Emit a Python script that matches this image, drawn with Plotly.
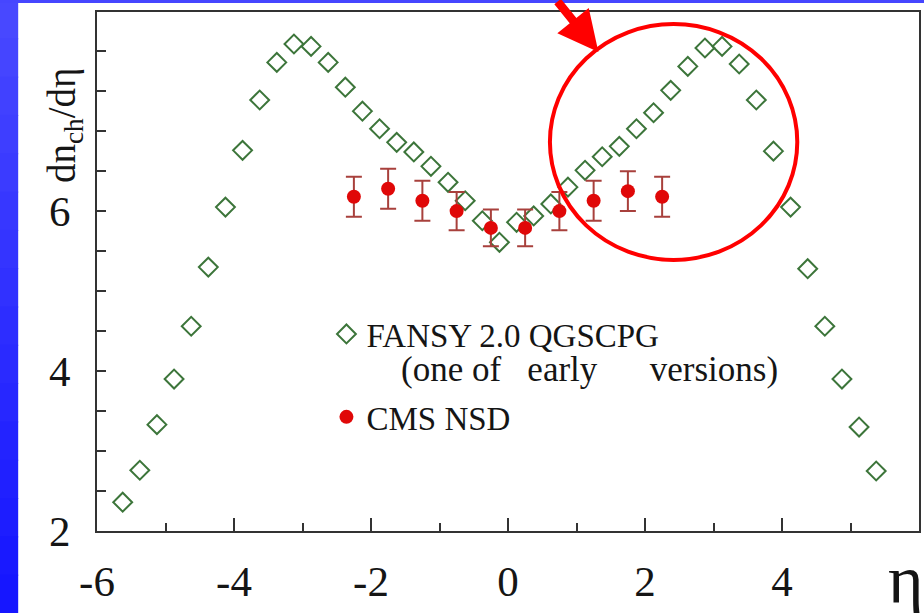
import plotly.graph_objects as go

# FANSY 2.0 QGSCPG pseudorapidity distribution (open diamonds)
eta_fansy = [-5.625, -5.375, -5.125, -4.875, -4.625, -4.375, -4.125, -3.875, -3.625,
             -3.375, -3.125, -2.875, -2.625, -2.375, -2.125, -1.875, -1.625, -1.375,
             -1.125, -0.875, -0.625, -0.375, -0.125,
             0.125, 0.375, 0.625, 0.875, 1.125, 1.375, 1.625, 1.875, 2.125, 2.375,
             2.625, 2.875, 3.125, 3.375, 3.625, 3.875, 4.125, 4.375, 4.625, 4.875,
             5.125, 5.375]
dn_fansy = [2.36, 2.76, 3.33, 3.90, 4.56, 5.30, 6.05, 6.76, 7.39,
            7.86, 8.09, 8.06, 7.86, 7.55, 7.25, 7.03, 6.86, 6.74,
            6.56, 6.36, 6.13, 5.88, 5.61,
            5.86, 5.94, 6.09, 6.30, 6.51, 6.68, 6.81, 7.03, 7.23, 7.51,
            7.81, 8.04, 8.06, 7.84, 7.39, 6.75, 6.05, 5.28, 4.56, 3.90,
            3.30, 2.75]

# CMS NSD measurement (filled circles with errors)
eta_cms = [-2.25, -1.75, -1.25, -0.75, -0.25, 0.25, 0.75, 1.25, 1.75, 2.25]
dn_cms = [6.18, 6.28, 6.13, 6.00, 5.79, 5.79, 6.00, 6.13, 6.25, 6.18]
err_cms = [0.25, 0.25, 0.25, 0.24, 0.23, 0.23, 0.24, 0.25, 0.25, 0.25]

x_tick_vals = [-6, -4, -2, 0, 2, 4]
x_tick_text = ["-6", "-4", "-2", "0", "2", "4"]
x_minor_vals = [-5, -3, -1, 1, 3, 5]
y_tick_vals = [2, 4, 6]
y_tick_text = ["2", "4", "6"]
y_minor_vals = [2.5, 3, 3.5, 4.5, 5, 5.5, 6.5, 7, 7.5, 8]

SERIF = "Liberation Serif, Times New Roman, serif"
W, H = 924, 613
ML, MR, MT, MB = 97, 3, 12, 82
PW, PH = W - ML - MR, H - MT - MB


def px_x(p):
    return (p - ML) / PW


def px_y(p):
    return (H - MB - p) / PH


fig = go.Figure()

fig.add_trace(go.Scatter(
    x=eta_fansy, y=dn_fansy, mode="markers", name="FANSY 2.0 QGSCPG",
    legendgroup="fansy",
    marker=dict(symbol="diamond-open", size=14.5, color="#3c753a",
                line=dict(width=2, color="#3c753a")),
))

fig.add_trace(go.Scatter(
    x=eta_cms, y=dn_cms, mode="markers", name="CMS NSD",
    legendgroup="cms",
    marker=dict(symbol="circle", size=14, color="#e00808"),
    error_y=dict(type="data", array=err_cms, visible=True,
                 color="#a8403c", thickness=2, width=8),
))

shapes = []
# blue slide frame: vertical gradient band on the left, thin band on top
n_strips = 16
top_rgb = (0x48, 0x48, 0xff)
bot_rgb = (0x16, 0x16, 0xff)
for i in range(n_strips):
    t = i / (n_strips - 1)
    r = round(top_rgb[0] + (bot_rgb[0] - top_rgb[0]) * t)
    g = round(top_rgb[1] + (bot_rgb[1] - top_rgb[1]) * t)
    b = round(top_rgb[2] + (bot_rgb[2] - top_rgb[2]) * t)
    y_top = i * H / n_strips
    y_bot = (i + 1) * H / n_strips + 1
    shapes.append(dict(type="rect", xref="paper", yref="paper",
                       x0=px_x(-5), x1=px_x(18), y0=px_y(y_bot), y1=px_y(y_top),
                       fillcolor=f"rgb({r},{g},{b})", line=dict(width=0), layer="above"))
shapes.append(dict(type="rect", xref="paper", yref="paper",
                   x0=px_x(-5), x1=px_x(W + 5), y0=px_y(3), y1=px_y(-5),
                   fillcolor="#4646ff", line=dict(width=0), layer="above"))

# red highlight ring around the right-hand peak
shapes.append(dict(type="circle", xref="x", yref="y",
                   x0=0.612, x1=4.223, y0=5.39, y1=8.34,
                   line=dict(color="#ff0000", width=4)))

annotations = [
    dict(text="dn<sub>ch</sub>/dη", xref="paper", yref="paper",
         x=px_x(65), y=px_y(125), xanchor="center", yanchor="middle",
         textangle=-90, showarrow=False,
         font=dict(family=SERIF, size=39, color="#151515")),
    dict(text="η", xref="paper", yref="paper",
         x=px_x(888), y=px_y(580), xanchor="left", yanchor="middle",
         showarrow=False, font=dict(family=SERIF, size=68, color="#151515")),
    dict(text="(one of\u00a0\u00a0 early\u00a0\u00a0\u00a0\u00a0\u00a0 versions)",
         xref="paper", yref="paper",
         x=px_x(400), y=px_y(369), xanchor="left", yanchor="middle",
         showarrow=False, font=dict(family=SERIF, size=35, color="#151515")),
    # red pointer arrow coming in from the top edge
    dict(text="", xref="x", yref="y", x=1.32, y=7.99,
         ax=-42, ay=-64, axref="pixel", ayref="pixel",
         showarrow=True, arrowhead=2, arrowsize=0.95, arrowwidth=8.5,
         arrowcolor="#ff0000"),
]

axis_line = dict(showline=True, linecolor="#333333", linewidth=2, mirror=True,
                 showgrid=False, zeroline=False, ticks="inside",
                 tickcolor="#333333", tickwidth=2)

fig.update_layout(
    width=W, height=H,
    margin=dict(l=ML, r=MR, t=MT, b=MB),
    paper_bgcolor="white", plot_bgcolor="white",
    xaxis=dict(range=[-6, 6], tickvals=x_tick_vals, ticktext=x_tick_text,
               ticklen=13, ticklabelstandoff=11,
               minor=dict(tickvals=x_minor_vals, ticks="inside", ticklen=8,
                          tickwidth=2, tickcolor="#333333"),
               tickfont=dict(family=SERIF, size=43, color="#151515"),
               **axis_line),
    yaxis=dict(range=[2, 8.49], tickvals=y_tick_vals, ticktext=y_tick_text,
               ticklen=9, ticklabelstandoff=16,
               minor=dict(tickvals=y_minor_vals, ticks="inside", ticklen=9,
                          tickwidth=2, tickcolor="#333333"),
               tickfont=dict(family=SERIF, size=43, color="#151515"),
               **axis_line),
    legend=dict(x=px_x(327), y=px_y(306), xanchor="left", yanchor="top",
                bgcolor="rgba(0,0,0,0)", borderwidth=0, tracegroupgap=37,
                font=dict(family=SERIF, size=33, color="#151515")),
    showlegend=True,
    shapes=shapes,
    annotations=annotations,
)

fig.write_html("out.html")
